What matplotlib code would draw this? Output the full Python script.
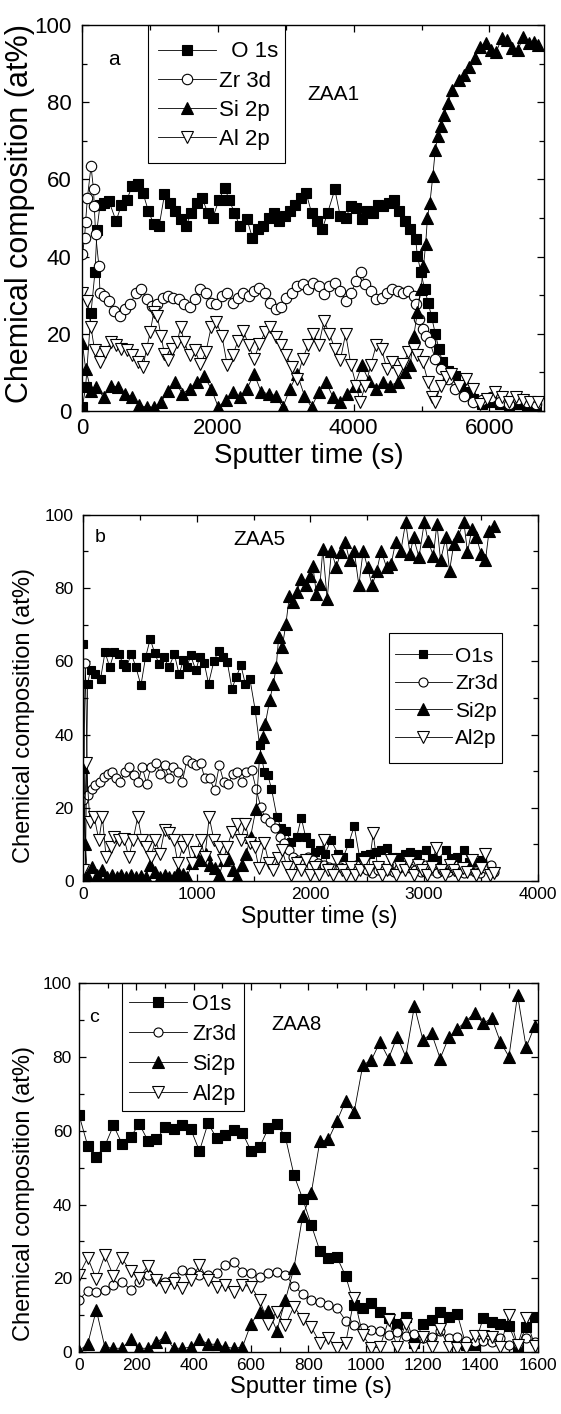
import matplotlib
matplotlib.use('Agg')
import matplotlib.pyplot as plt
from matplotlib.ticker import MultipleLocator
from matplotlib.patches import Rectangle

plt.rcParams['font.family'] = ['Liberation Sans', 'DejaVu Sans']

# ---------------- panel a (ZAA1) ----------------
o1s_a_t = [0, 47, 127, 185, 215, 260, 312, 391, 497, 576,
           656, 735, 814, 893, 973, 1052, 1131, 1210, 1290, 1369,
           1448, 1527, 1607, 1686, 1765, 1845, 1924, 2014, 2098, 2162,
           2241, 2321, 2426, 2506, 2585, 2664, 2744, 2823, 2902, 2982,
           3061, 3140, 3219, 3299, 3378, 3458, 3537, 3616, 3722, 3801,
           3881, 3960, 4040, 4119, 4198, 4278, 4357, 4436, 4516, 4595,
           4675, 4754, 4833, 4913, 4939, 4992, 5045, 5098, 5150, 5203,
           5256, 5309, 5389, 5494, 5573, 5653, 5759, 5891, 6024, 6155,
           6288, 6420, 6553, 6685]
o1s_a = [1.0, 6.2, 25.5, 36.0, 47.0, 53.5, 54.0, 54.4, 49.2, 53.5,
         54.8, 58.3, 58.7, 56.5, 51.8, 48.4, 47.9, 56.1, 54.0, 51.8,
         49.7, 47.9, 51.4, 54.0, 55.3, 51.4, 50.1, 54.8, 57.8, 54.8,
         51.4, 47.9, 49.7, 44.9, 47.1, 47.9, 50.1, 51.4, 49.2, 50.5,
         51.8, 53.5, 55.3, 56.5, 51.4, 49.2, 47.1, 51.4, 57.4, 50.5,
         50.1, 53.1, 52.7, 49.7, 51.8, 51.4, 53.5, 53.1, 54.0, 54.8,
         51.8, 49.2, 47.1, 44.5, 40.2, 35.9, 31.6, 28.1, 24.3, 20.0,
         16.1, 12.7, 10.5, 9.2, 6.2, 4.9, 3.2, 1.9, 2.3, 1.9,
         1.5, 1.9, 1.0, 1.0]

zr_a_t = [0, 31, 47, 74, 127, 164, 175, 195, 243, 259,
          312, 391, 470, 550, 629, 708, 788, 867, 946, 1025,
          1105, 1184, 1264, 1343, 1422, 1502, 1581, 1660, 1739, 1819,
          1898, 1977, 2057, 2136, 2215, 2295, 2374, 2453, 2532, 2611,
          2691, 2770, 2849, 2929, 3008, 3087, 3167, 3246, 3325, 3405,
          3484, 3563, 3643, 3722, 3801, 3881, 3960, 4040, 4108, 4172,
          4251, 4331, 4410, 4489, 4569, 4648, 4727, 4807, 4886, 4923,
          4966, 5019, 5071, 5124, 5203, 5283, 5389, 5494, 5627, 5759,
          5891, 6024, 6156, 6288, 6421, 6553, 6685]
zr_a = [40.6, 44.7, 49.0, 55.3, 63.4, 57.4, 53.1, 45.8, 37.6, 30.7,
        29.9, 28.6, 26.0, 24.7, 26.4, 27.7, 30.7, 31.6, 29.0, 27.3,
        27.7, 29.4, 29.9, 29.4, 29.0, 27.7, 26.9, 29.0, 31.6, 30.7,
        28.1, 27.7, 29.9, 30.7, 28.1, 29.4, 30.7, 29.9, 31.2, 32.0,
        30.7, 28.1, 26.4, 26.9, 29.4, 30.7, 32.4, 32.9, 31.6, 33.3,
        32.4, 30.3, 32.4, 33.3, 31.2, 28.6, 30.7, 33.7, 35.9, 32.9,
        31.2, 29.0, 29.4, 30.7, 31.6, 31.2, 30.7, 31.2, 29.9, 27.7,
        23.8, 21.3, 19.5, 17.8, 13.5, 10.9, 8.3, 5.8, 4.0, 2.3,
        2.8, 3.6, 2.3, 1.9, 3.2, 2.3, 1.9]

si_a_t = [0, 47, 127, 206, 312, 418, 524, 629, 735, 840,
          946, 1052, 1158, 1264, 1369, 1475, 1581, 1686, 1792, 1898,
          2004, 2110, 2215, 2321, 2427, 2532, 2638, 2744, 2849, 2955,
          3061, 3167, 3273, 3378, 3484, 3590, 3696, 3802, 3907, 4013,
          4119, 4225, 4331, 4437, 4542, 4648, 4754, 4833, 4886, 4939,
          4992, 5029, 5061, 5087, 5124, 5166, 5203, 5240, 5283, 5335,
          5389, 5452, 5547, 5627, 5706, 5785, 5865, 5944, 6024, 6103,
          6182, 6262, 6341, 6421, 6500, 6579, 6659, 6712]
si_a = [17.5, 11.0, 5.3, 6.2, 3.6, 6.6, 6.2, 4.5, 3.6, 1.5,
        1.0, 1.0, 2.3, 5.3, 7.5, 4.5, 5.8, 7.5, 9.2, 5.8,
        1.0, 2.8, 4.9, 3.6, 5.8, 9.6, 4.9, 4.5, 4.0, 1.0,
        5.8, 9.6, 4.0, 1.0, 4.9, 7.5, 3.6, 2.3, 4.5, 6.6,
        11.8, 7.9, 5.8, 7.5, 6.6, 7.5, 10.1, 11.8, 19.5, 25.6,
        31.6, 37.6, 43.2, 50.1, 54.0, 60.8, 67.7, 71.2, 73.8, 76.8,
        79.8, 83.2, 85.8, 87.1, 89.2, 91.4, 94.4, 95.3, 93.5, 93.1,
        96.6, 96.1, 94.0, 93.5, 97.0, 95.3, 95.7, 94.8]

al_a_t = [0, 74, 127, 180, 259, 338, 418, 497, 576, 656,
          735, 814, 893, 946, 999, 1052, 1105, 1158, 1210, 1264,
          1316, 1396, 1448, 1502, 1581, 1660, 1739, 1819, 1898, 1977,
          2057, 2136, 2215, 2295, 2374, 2453, 2532, 2611, 2691, 2770,
          2849, 2929, 3008, 3087, 3167, 3246, 3325, 3405, 3484, 3563,
          3643, 3722, 3801, 3881, 3960, 4040, 4093, 4172, 4251, 4331,
          4410, 4489, 4569, 4648, 4727, 4807, 4886, 4939, 5019, 5098,
          5150, 5203, 5283, 5362, 5441, 5547, 5653, 5759, 5865, 5970,
          6076, 6182, 6288, 6394, 6500, 6606, 6712]
al_a = [30.7, 28.6, 21.7, 15.7, 12.7, 15.2, 17.8, 17.0, 16.1, 15.7,
        14.4, 12.7, 11.4, 16.1, 20.4, 25.6, 24.7, 19.5, 14.8, 13.1,
        16.1, 17.8, 21.7, 17.8, 14.4, 15.7, 12.2, 15.2, 21.7, 23.0,
        19.5, 11.8, 14.4, 18.2, 20.8, 17.0, 13.5, 17.4, 20.4, 21.7,
        19.1, 17.0, 14.4, 11.4, 8.3, 13.5, 17.0, 20.0, 17.0, 23.4,
        20.0, 16.1, 13.1, 20.0, 11.8, 6.6, 2.3, 6.6, 11.8, 17.0,
        16.1, 10.9, 12.7, 10.5, 12.2, 15.2, 16.1, 14.4, 12.7, 7.5,
        3.6, 2.3, 6.6, 8.8, 9.6, 6.6, 8.3, 5.8, 1.9, 3.2,
        4.9, 3.6, 2.3, 3.6, 2.8, 2.3, 2.3]

# ---------------- panel b (ZAA5) ----------------
o1s_b_t = [0, 20, 40, 66, 107, 154, 193, 234, 275, 313,
           353, 382, 424, 465, 509, 550, 591, 630, 668, 708,
           756, 803, 845, 883, 915, 946, 993, 1025, 1066, 1104,
           1151, 1193, 1231, 1269, 1310, 1348, 1389, 1427, 1468, 1515,
           1553, 1595, 1626, 1658, 1706, 1744, 1785, 1832, 1880, 1920,
           1958, 1996, 2037, 2085, 2132, 2180, 2243, 2291, 2338, 2386,
           2433, 2481, 2528, 2576, 2623, 2671, 2718, 2782, 2829, 2877,
           2940, 3019, 3067, 3114, 3193, 3240, 3288, 3351, 3399, 3446,
           3509, 3588]
o1s_b = [64.8, 1.5, 53.9, 57.7, 56.4, 55.2, 62.5, 58.4, 62.5, 62.0,
         59.3, 58.4, 62.0, 58.4, 53.4, 61.1, 66.1, 62.2, 59.3, 61.1,
         58.4, 62.0, 56.4, 60.4, 58.4, 61.6, 57.5, 61.1, 59.5, 53.9,
         60.0, 62.9, 61.1, 59.8, 52.5, 55.7, 58.9, 53.9, 55.2, 46.6,
         37.1, 29.8, 28.9, 25.2, 17.5, 14.4, 13.6, 10.7, 12.0, 17.3,
         12.1, 10.3, 8.0, 8.4, 7.5, 11.2, 7.5, 6.6, 10.3, 15.0,
         6.6, 7.1, 7.5, 8.0, 8.4, 8.9, 6.6, 6.6, 7.5, 8.0,
         7.5, 8.4, 6.2, 5.7, 8.4, 6.2, 6.6, 8.4, 5.3, 5.3,
         5.7, 3.9]

zr_b_t = [0, 20, 40, 75, 107, 148, 186, 218, 256, 288,
          329, 370, 408, 446, 487, 519, 560, 598, 639, 677,
          718, 756, 794, 835, 873, 914, 955, 993, 1034, 1072,
          1113, 1158, 1199, 1237, 1278, 1319, 1357, 1395, 1436, 1484,
          1522, 1563, 1604, 1648, 1689, 1730, 1768, 1810, 1848, 1889,
          1927, 1975, 2022, 2070, 2117, 2165, 2212, 2260, 2307, 2355,
          2402, 2449, 2497, 2544, 2592, 2639, 2687, 2734, 2782, 2829,
          2877, 2924, 2972, 3019, 3067, 3114, 3161, 3209, 3256, 3303,
          3351, 3399, 3446, 3494, 3541, 3588, 3620]
zr_b = [22.0, 59.5, 23.4, 25.2, 26.2, 27.1, 28.4, 29.3, 29.8, 28.0,
        27.1, 29.8, 31.2, 28.9, 27.1, 31.2, 26.6, 31.2, 32.1, 29.3,
        31.6, 28.0, 31.2, 29.8, 27.1, 33.0, 32.1, 31.6, 32.1, 28.0,
        28.0, 24.8, 31.6, 27.1, 26.6, 29.3, 29.8, 27.1, 29.8, 30.2,
        25.2, 20.3, 17.1, 16.2, 14.4, 12.1, 10.3, 8.4, 6.6, 5.7,
        4.8, 6.6, 5.7, 4.8, 4.4, 3.9, 3.5, 3.9, 3.0, 3.5,
        4.4, 3.5, 3.0, 2.1, 3.0, 3.5, 3.0, 2.5, 3.5, 4.4,
        3.5, 3.0, 2.5, 4.4, 3.0, 2.1, 3.0, 2.5, 3.5, 2.5,
        2.1, 3.0, 2.5, 2.1, 3.5, 4.4, 2.5]

si_b_t = [0, 20, 40, 75, 123, 170, 212, 256, 297, 338,
          377, 424, 465, 509, 550, 591, 636, 677, 718, 756,
          797, 835, 876, 914, 962, 1003, 1041, 1082, 1120, 1161,
          1199, 1237, 1278, 1319, 1357, 1395, 1436, 1474, 1522, 1553,
          1579, 1604, 1642, 1674, 1700, 1721, 1753, 1785, 1816, 1848,
          1880, 1920, 1958, 1996, 2022, 2053, 2085, 2110, 2148, 2186,
          2227, 2268, 2307, 2345, 2386, 2427, 2465, 2503, 2544, 2585,
          2623, 2671, 2712, 2750, 2797, 2839, 2877, 2908, 2956, 3003,
          3035, 3082, 3114, 3146, 3193, 3225, 3262, 3303, 3351, 3383,
          3421, 3462, 3503, 3541, 3573, 3620]
si_b = [31.0, 10.0, 1.0, 3.9, 1.6, 3.0, 1.2, 1.6, 1.2, 1.6,
        1.2, 1.6, 1.2, 1.4, 1.2, 4.4, 2.5, 1.2, 1.6, 1.2,
        1.2, 2.5, 2.0, 1.2, 4.8, 6.6, 5.7, 7.5, 4.4, 3.5,
        1.6, 5.7, 6.2, 3.0, 1.2, 4.4, 7.5, 12.1, 19.8, 33.9,
        39.3, 43.0, 49.3, 53.9, 58.4, 66.6, 63.9, 70.2, 77.9, 76.1,
        78.8, 82.5, 80.7, 83.4, 86.1, 78.4, 81.1, 90.6, 77.0, 90.2,
        85.6, 89.7, 92.5, 87.5, 90.2, 80.7, 90.2, 85.6, 80.7, 84.7,
        90.2, 85.6, 86.6, 92.5, 90.2, 98.0, 89.3, 93.8, 88.4, 98.0,
        92.9, 88.8, 97.5, 87.5, 93.8, 84.7, 92.0, 94.3, 98.0, 89.7,
        96.1, 93.8, 89.3, 87.5, 95.6, 97.0]

al_b_t = [0, 28, 60, 98, 139, 170, 202, 243, 275, 313,
          360, 402, 440, 481, 519, 550, 598, 636, 677, 718,
          756, 797, 835, 876, 914, 955, 993, 1034, 1072, 1110,
          1151, 1193, 1231, 1269, 1310, 1351, 1389, 1427, 1468, 1509,
          1547, 1595, 1636, 1674, 1712, 1753, 1794, 1832, 1880, 1920,
          1958, 1996, 2037, 2079, 2117, 2155, 2196, 2237, 2275, 2313,
          2355, 2395, 2433, 2471, 2512, 2553, 2592, 2630, 2671, 2712,
          2750, 2788, 2829, 2870, 2908, 2946, 2987, 3029, 3067, 3105,
          3146, 3187, 3225, 3262, 3303, 3344, 3383, 3421, 3462, 3503,
          3541, 3579, 3620]
al_b = [3.0, 32.1, 16.2, 17.5, 11.2, 17.5, 6.6, 9.4, 12.1, 11.2,
        11.6, 6.6, 11.2, 17.5, 11.2, 9.4, 6.6, 11.2, 7.5, 13.9,
        13.0, 11.2, 4.8, 9.4, 11.2, 4.8, 8.0, 11.2, 6.6, 17.5,
        11.2, 9.4, 5.7, 9.4, 13.4, 15.7, 11.2, 15.7, 10.3, 9.4,
        3.5, 10.3, 4.8, 3.0, 6.2, 8.4, 3.9, 1.6, 4.8, 3.0,
        5.7, 1.6, 3.9, 1.6, 11.2, 3.0, 1.6, 5.7, 3.0, 1.6,
        3.9, 1.6, 3.0, 5.3, 3.0, 13.0, 3.9, 1.6, 3.0, 5.7,
        1.6, 3.9, 3.0, 5.3, 1.6, 4.4, 3.0, 1.6, 3.9, 8.9,
        3.0, 1.6, 4.4, 3.0, 1.6, 3.5, 2.5, 5.7, 1.6, 3.5,
        7.5, 1.6, 2.1]

# ---------------- panel c (ZAA8) ----------------
t_c = [0, 30, 60, 90, 120, 150, 180, 210, 240, 270,
       300, 330, 360, 390, 420, 450, 480, 510, 540, 570,
       600, 630, 660, 690, 720, 750, 780, 810, 840, 870,
       900, 930, 960, 990, 1020, 1050, 1080, 1110, 1140, 1170,
       1200, 1230, 1260, 1290, 1320, 1350, 1380, 1410, 1440, 1470,
       1500, 1530, 1560, 1590]
o1s_c = [64.2, 55.9, 52.9, 55.9, 61.4, 56.4, 58.3, 61.8, 57.3, 57.6,
         60.9, 60.3, 61.4, 60.3, 54.5, 62.0, 57.9, 58.8, 60.1, 59.4,
         54.5, 55.5, 60.6, 61.9, 58.2, 47.9, 41.6, 34.5, 27.5, 25.5,
         25.7, 20.7, 12.8, 11.9, 13.3, 11.0, 9.2, 7.8, 9.5, 2.4,
         7.8, 8.7, 11.0, 9.6, 10.3, 2.0, 2.0, 9.2, 8.3, 7.6,
         7.2, 1.5, 6.9, 9.6]
zr_c = [14.2, 16.7, 16.4, 16.9, 18.2, 19.1, 16.9, 19.1, 21.0, 19.8,
        18.9, 20.5, 22.2, 21.8, 21.0, 21.0, 21.6, 23.6, 24.5, 21.8,
        21.6, 20.3, 21.6, 21.8, 21.0, 17.9, 15.8, 14.2, 13.5, 12.8,
        12.0, 8.6, 7.3, 6.5, 6.0, 5.8, 4.8, 5.5, 4.4, 5.0,
        3.8, 4.2, 5.8, 3.8, 4.2, 3.2, 2.8, 3.2, 2.8, 3.8,
        2.0, 2.2, 3.8, 2.8]
si_c = [0.5, 2.2, 11.5, 1.4, 1.1, 1.1, 3.6, 1.1, 1.1, 2.7,
        4.2, 1.1, 1.1, 1.4, 3.6, 2.2, 2.2, 1.4, 1.1, 1.4,
        7.8, 11.0, 11.3, 5.9, 14.2, 22.9, 36.9, 43.0, 57.1, 57.6,
        62.6, 68.1, 65.1, 77.7, 79.1, 84.0, 79.5, 85.4, 80.0, 93.7,
        84.5, 86.3, 79.5, 85.2, 87.6, 89.5, 91.9, 89.0, 90.4, 84.0,
        80.0, 96.7, 82.5, 88.3]
al_c = [21.0, 25.6, 19.8, 26.3, 20.6, 25.4, 21.9, 20.0, 23.4, 19.6,
        17.8, 18.7, 17.5, 19.6, 23.6, 19.6, 17.8, 18.2, 16.4, 18.2,
        17.8, 14.2, 7.8, 11.0, 7.4, 12.4, 9.0, 6.9, 2.6, 3.8,
        1.1, 2.4, 14.6, 4.7, 1.1, 1.5, 8.7, 1.5, 7.8, 1.1,
        4.2, 1.5, 6.2, 1.5, 1.3, 1.1, 4.4, 4.4, 4.2, 1.5,
        10.1, 2.0, 9.2, 1.8]

labels_a = ['  O 1s', 'Zr 3d', 'Si 2p', 'Al 2p']
labels_bc = ['O1s', 'Zr3d', 'Si2p', 'Al2p']

fig = plt.figure(figsize=(5.61, 14.14), dpi=100)


def draw(ax, series, labels, ms, xmax, xmaj, xmin, fs_tick, pad_x, pad_y,
         fs_xlab, fs_ylab):
    styles = [('s', 'black'), ('o', 'white'), ('^', 'black'), ('v', 'white')]
    for (t, y), lab, (m, fc), s in zip(series, labels, styles, ms):
        ax.plot(t, y, '-', color='black', lw=0.6, marker=m, ms=s,
                mfc=fc, mec='black', mew=0.8, label=lab)
    ax.set_xlim(0, xmax)
    ax.set_ylim(0, 100)
    ax.xaxis.set_major_locator(MultipleLocator(xmaj))
    ax.xaxis.set_minor_locator(MultipleLocator(xmin))
    ax.yaxis.set_major_locator(MultipleLocator(20))
    ax.yaxis.set_minor_locator(MultipleLocator(10))
    ax.tick_params(which='both', direction='in', top=True, right=True,
                   width=0.9, labelsize=fs_tick)
    ax.tick_params(which='major', length=5)
    ax.tick_params(which='minor', length=3.5)
    ax.tick_params(axis='x', which='major', pad=pad_x)
    ax.tick_params(axis='y', which='major', pad=pad_y)
    for sp in ax.spines.values():
        sp.set_linewidth(1.0)
    ax.set_xlabel('Sputter time (s)', fontsize=fs_xlab)
    ax.set_ylabel('Chemical composition (at%)', fontsize=fs_ylab)


def legend_box(ax, anchor, frame, fs, spacing, hlen, tpad):
    # legend text/handles without frame, frame drawn as a separate rectangle
    ax.legend(loc='center left', bbox_to_anchor=anchor, borderaxespad=0,
              borderpad=0, fontsize=fs, frameon=False, handlelength=hlen,
              handletextpad=tpad, labelspacing=spacing)
    x0, y0, x1, y1 = frame
    ax.add_patch(Rectangle((x0, y0), x1 - x0, y1 - y0, transform=ax.transAxes,
                           fill=False, edgecolor='black', lw=0.8,
                           clip_on=False, zorder=5))


# ---- panel a ----
ax = fig.add_axes([0.1469, 0.7093, 0.8221, 0.2730])
draw(ax, [(o1s_a_t, o1s_a), (zr_a_t, zr_a), (si_a_t, si_a), (al_a_t, al_a)],
     labels_a, [7.5, 7.5, 9, 9], 6800, 2000, 1000, 16, 5, 8, 20, 22)
legend_box(ax, (0.1637, 0.8166), (0.1418, 0.6425, 0.4399, 1.0),
           16, 0.37, 2.6, 0.13)
ax.text(372, 89.6, 'a', fontsize=15)
ax.text(3313, 80.6, 'ZAA1', fontsize=15)
ax.yaxis.set_label_coords(-0.103, 0.513)
ax.xaxis.set_label_coords(0.491, -0.082)

# ---- panel b ----
ax = fig.add_axes([0.1481, 0.3769, 0.8102, 0.2591])
draw(ax, [(o1s_b_t, o1s_b), (zr_b_t, zr_b), (si_b_t, si_b), (al_b_t, al_b)],
     labels_bc, [6, 6.5, 8, 8], 4000, 1000, 500, 12.5, 4.5, 6.8, 16.5, 17)
legend_box(ax, (0.6862, 0.501), (0.672, 0.323, 0.9212, 0.6778),
           15, 0.41, 2.72, 0.16)
ax.text(98, 92.6, 'b', fontsize=14)
ax.text(1327, 91.7, 'ZAA5', fontsize=15)
ax.yaxis.set_label_coords(-0.106, 0.453)
ax.xaxis.set_label_coords(0.519, -0.066)

# ---- panel c ----
ax = fig.add_axes([0.1410, 0.0436, 0.8173, 0.2614])
draw(ax, [(t_c, o1s_c), (t_c, zr_c), (t_c, si_c), (t_c, al_c)],
     labels_bc, [6.5, 6.5, 8, 8], 1600, 200, 100, 12.5, 4.3, 5.2, 17, 17)
legend_box(ax, (0.1097, 0.820), (0.0942, 0.6537, 0.3592, 1.0),
           15.5, 0.41, 2.68, 0.25)
ax.text(35, 89.4, 'c', fontsize=14)
ax.text(671, 87.2, 'ZAA8', fontsize=14.5)
ax.yaxis.set_label_coords(-0.096, 0.431)
ax.xaxis.set_label_coords(0.506, -0.064)

fig.savefig('out.png', dpi=100)
